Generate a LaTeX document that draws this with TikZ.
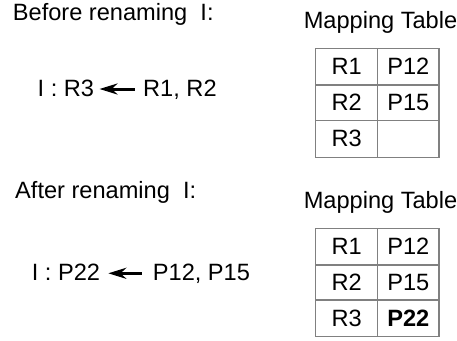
\documentclass[tikz,border=0pt]{standalone}
\usepackage{fontspec}
\setmainfont{Liberation Sans}
\usetikzlibrary{arrows.meta}
\begin{document}
\begin{tikzpicture}[x=1pt,y=-1pt,
  txt/.style={inner sep=0pt,anchor=base west,font=\fontsize{23.6}{27}\selectfont},
  ctxt/.style={inner sep=0pt,anchor=base,font=\fontsize{23.6}{27}\selectfont},
  grid/.style={draw=black!50,line width=1.5pt},
  arr/.style={-{Stealth[length=18pt,width=11pt]},line width=3pt}]
\useasboundingbox (0,0) rectangle (457,340);
% Before
\node[txt] (h1) at (12.7,20.7) {Before renaming\ \ I:};
\node[txt] (l1) at (37.5,96.7) {I : R3};
\node[txt] (r1) at (143,96.7) {R1, R2};
\coordinate (a1s) at (134.5,89);
\coordinate (a1e) at (99.5,89);
\draw[arr] (a1s) -- (a1e);
% Table 1
\node[ctxt] (t1) at (380.5,28) {Mapping Table};
\draw[grid] (315.7,48.3) rectangle (439,157.3);
\draw[grid] (315.7,85) -- (439,85);
\draw[grid] (315.7,120.7) -- (439,120.7);
\draw[grid] (377.7,48.3) -- (377.7,157.3);
\node[ctxt] (c11) at (346.7,74.5) {R1};
\node[ctxt] (c12) at (408.3,74.5) {P12};
\node[ctxt] (c21) at (346.7,110.5) {R2};
\node[ctxt] (c22) at (408.3,110.5) {P15};
\node[ctxt] (c31) at (346.7,146.5) {R3};
% After
\node[txt] (h2) at (15,198.3) {After renaming\ \ I:};
\node[txt] (l2) at (31.7,280) {I : P22};
\node[txt] (r2) at (152.7,280) {P12, P15};
\coordinate (a2s) at (141.7,273.3);
\coordinate (a2e) at (108.3,273.3);
\draw[arr] (a2s) -- (a2e);
% Table 2
\node[ctxt] (t2) at (380.5,208.3) {Mapping Table};
\draw[grid] (315.7,228.3) rectangle (439,336.7);
\draw[grid] (315.7,265) -- (439,265);
\draw[grid] (315.7,300) -- (439,300);
\draw[grid] (377.7,228.3) -- (377.7,336.7);
\node[ctxt] (d11) at (346.7,254.5) {R1};
\node[ctxt] (d12) at (408.3,254.5) {P12};
\node[ctxt] (d21) at (346.7,290) {R2};
\node[ctxt] (d22) at (408.3,290) {P15};
\node[ctxt] (d31) at (346.7,326) {R3};
\node[ctxt,font=\fontsize{23.6}{27}\selectfont\bfseries] (d32) at (408.3,326) {P22};
\end{tikzpicture}
\end{document}
